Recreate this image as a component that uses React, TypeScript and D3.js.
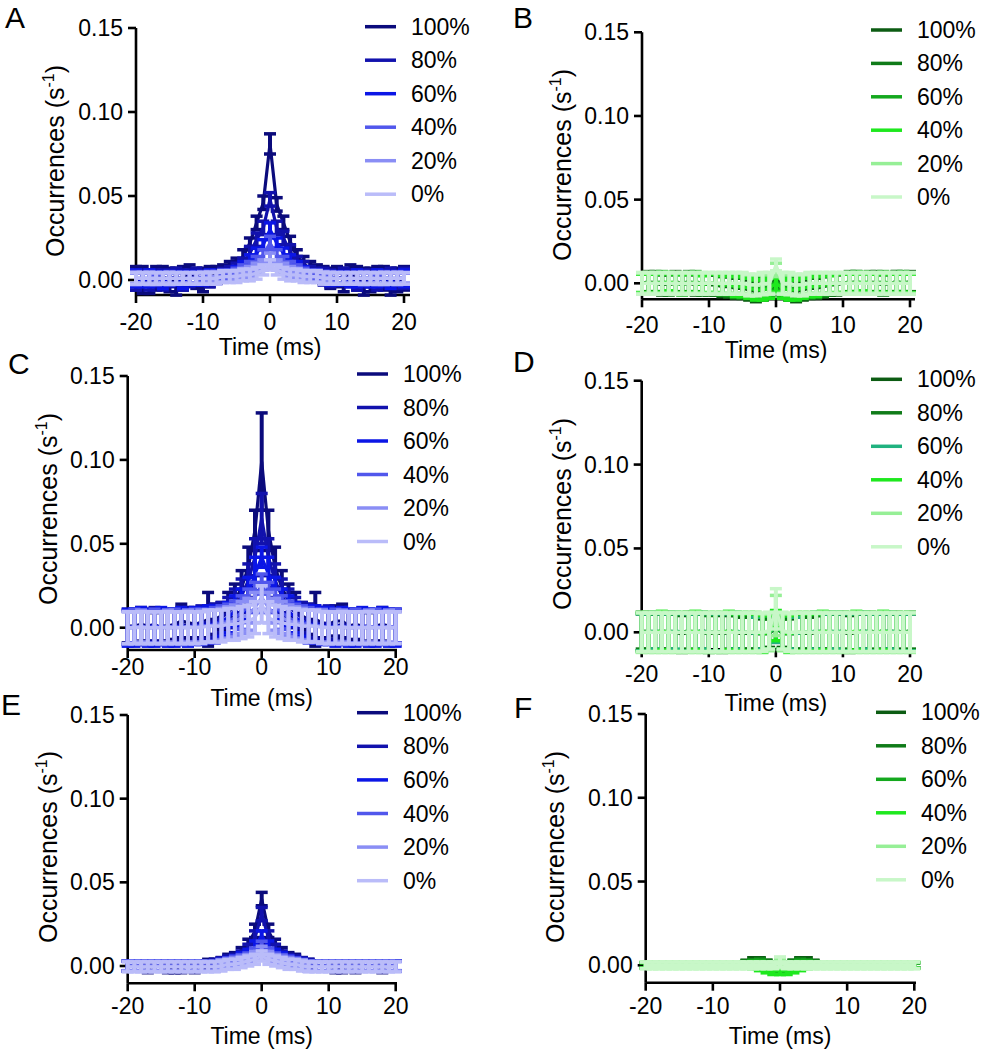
import React from 'react';
import * as d3 from 'd3';

// ---------- shared categories ----------
const times = [-20,-19,-18,-17,-16,-15,-14,-13,-12,-11,-10,-9,-8,-7,-6,-5,-4,-3,-2,-1,0,1,2,3,4,5,6,7,8,9,10,11,12,13,14,15,16,17,18,19,20];
const legendLabels = ['100%','80%','60%','40%','20%','0%'];
const xTicks = [-20,-10,0,10,20];
const yTicks = [0,0.05,0.10,0.15];
const yTickLabels = ['0.00','0.05','0.10','0.15'];

// ---------- Panel A (blue) ----------
const mA100 = [0.001,0.000,-0.001,0.001,0.002,0.000,-0.001,0.001,0.003,0.001,0.000,0.002,0.003,0.004,
  0.006,0.009,0.014,0.022,0.034,0.046,0.081,0.045,0.034,0.023,0.014,0.010,0.006,
  0.004,0.003,0.001,0.002,0.000,0.003,0.001,-0.001,0.000,0.002,0.001,-0.001,0.000,0.001];
const eA100 = [0.007,0.008,0.007,0.007,0.006,0.007,0.008,0.007,0.006,0.006,0.007,0.006,0.005,0.005,
  0.005,0.004,0.004,0.003,0.004,0.004,0.006,0.004,0.004,0.003,0.004,0.004,0.005,
  0.005,0.005,0.006,0.006,0.007,0.006,0.007,0.008,0.007,0.006,0.007,0.008,0.007,0.007];
const mA80 = [0.000,0.001,0.000,0.001,0.000,0.001,0.002,0.000,0.001,0.002,0.001,0.001,0.002,0.003,
  0.004,0.006,0.010,0.016,0.024,0.031,0.048,0.031,0.025,0.017,0.011,0.007,0.004,
  0.003,0.002,0.001,0.001,0.002,0.001,0.000,0.001,0.001,0.000,0.001,0.001,0.000,0.001];
const eA80 = [0.006,0.005,0.006,0.005,0.006,0.005,0.005,0.006,0.005,0.005,0.004,0.005,0.004,0.004,
  0.004,0.004,0.003,0.004,0.004,0.004,0.004,0.004,0.004,0.004,0.003,0.004,0.004,
  0.004,0.005,0.005,0.004,0.005,0.005,0.006,0.005,0.005,0.006,0.005,0.006,0.005,0.006];
const mA60 = [0.001,0.000,0.001,0.001,0.000,0.001,0.001,0.000,0.001,0.001,0.001,0.002,0.002,0.002,
  0.003,0.005,0.008,0.012,0.016,0.021,0.030,0.022,0.016,0.012,0.008,0.005,0.003,
  0.002,0.002,0.001,0.001,0.001,0.000,0.001,0.001,0.000,0.001,0.001,0.000,0.001,0.001];
const eA60 = [0.005,0.004,0.005,0.004,0.005,0.004,0.004,0.005,0.004,0.004,0.004,0.004,0.003,0.003,
  0.003,0.003,0.003,0.003,0.003,0.003,0.004,0.003,0.003,0.003,0.003,0.003,0.003,
  0.003,0.003,0.004,0.004,0.004,0.004,0.005,0.004,0.004,0.005,0.004,0.005,0.004,0.005];
const mA40 = [0.001,0.001,0.001,0.000,0.001,0.001,0.001,0.001,0.001,0.001,0.002,0.002,0.002,0.003,
  0.003,0.004,0.006,0.008,0.011,0.015,0.022,0.015,0.011,0.008,0.006,0.004,0.003,
  0.003,0.002,0.002,0.001,0.001,0.001,0.001,0.001,0.001,0.000,0.001,0.001,0.001,0.001];
const eA40 = [0.004,0.003,0.004,0.003,0.003,0.004,0.003,0.003,0.003,0.003,0.003,0.003,0.003,0.003,
  0.003,0.003,0.003,0.003,0.003,0.003,0.004,0.003,0.003,0.003,0.003,0.003,0.003,
  0.003,0.003,0.003,0.003,0.003,0.003,0.003,0.004,0.003,0.003,0.004,0.003,0.004,0.003];
const mA20 = [0.001,0.001,0.001,0.001,0.001,0.001,0.001,0.001,0.001,0.001,0.001,0.002,0.002,0.002,
  0.002,0.003,0.004,0.005,0.007,0.009,0.013,0.009,0.007,0.005,0.004,0.003,0.002,
  0.002,0.002,0.001,0.001,0.001,0.001,0.001,0.001,0.001,0.001,0.001,0.001,0.001,0.001];
const eA20 = [0.003,0.003,0.003,0.003,0.003,0.003,0.003,0.003,0.003,0.003,0.003,0.003,0.003,0.003,
  0.003,0.003,0.003,0.003,0.003,0.003,0.003,0.003,0.003,0.003,0.003,0.003,0.003,
  0.003,0.003,0.003,0.003,0.003,0.003,0.003,0.003,0.003,0.003,0.003,0.003,0.003,0.003];
const mA0 = [0.001,0.001,0.001,0.001,0.001,0.001,0.001,0.001,0.001,0.001,0.001,0.001,0.001,0.002,
  0.002,0.002,0.003,0.003,0.004,0.006,0.009,0.006,0.004,0.003,0.003,0.002,0.002,
  0.002,0.001,0.001,0.001,0.001,0.001,0.001,0.001,0.001,0.001,0.001,0.001,0.001,0.001];
const eA0 = [0.0035,0.0035,0.0035,0.0035,0.0035,0.0035,0.0035,0.0035,0.0035,0.0035,0.0035,0.0035,0.0035,0.0035,
  0.0035,0.0035,0.0035,0.0035,0.0035,0.003,0.003,0.003,0.0035,0.0035,0.0035,0.0035,0.0035,
  0.0035,0.0035,0.0035,0.0035,0.0035,0.0035,0.0035,0.0035,0.0035,0.0035,0.0035,0.0035,0.0035,0.0035];

// ---------- Panel B (green) ----------
const mB100 = [0.000,0.001,0.000,-0.001,0.000,0.001,0.000,0.000,-0.001,0.000,-0.001,-0.001,-0.002,-0.002,
  -0.003,-0.003,-0.004,-0.005,-0.004,-0.003,0.003,-0.003,-0.004,-0.005,-0.004,-0.003,-0.003,
  -0.002,-0.001,-0.001,0.000,0.000,0.001,0.000,0.000,0.001,0.000,0.000,0.001,0.000,0.001];
const eB100 = [0.006,0.006,0.006,0.006,0.006,0.006,0.006,0.006,0.006,0.006,0.006,0.006,0.006,0.006,
  0.006,0.006,0.006,0.006,0.006,0.005,0.004,0.005,0.006,0.006,0.006,0.006,0.006,
  0.006,0.006,0.006,0.006,0.006,0.006,0.006,0.006,0.006,0.006,0.006,0.006,0.006,0.006];
const mB80 = [0.000,0.000,0.001,0.000,-0.001,0.000,0.000,0.001,0.000,-0.001,0.000,-0.001,-0.001,-0.002,
  -0.002,-0.003,-0.003,-0.004,-0.004,-0.002,0.002,-0.002,-0.004,-0.004,-0.003,-0.003,-0.002,
  -0.002,-0.001,0.000,0.000,0.001,0.000,0.000,0.001,0.000,-0.001,0.000,0.001,0.000,0.000];
const eB80 = [0.006,0.006,0.006,0.006,0.006,0.006,0.006,0.006,0.006,0.006,0.006,0.006,0.006,0.006,
  0.006,0.006,0.006,0.006,0.006,0.005,0.005,0.005,0.006,0.006,0.006,0.006,0.006,
  0.006,0.006,0.006,0.006,0.006,0.006,0.006,0.006,0.006,0.006,0.006,0.006,0.006,0.006];
const mB60 = [0.000,0.000,0.000,0.001,0.000,0.000,-0.001,0.000,0.001,0.000,0.000,0.000,-0.001,-0.001,
  -0.001,-0.002,-0.002,-0.003,-0.003,-0.002,0.001,-0.002,-0.003,-0.003,-0.002,-0.002,-0.001,
  -0.001,0.000,0.000,0.000,0.000,0.001,0.000,0.000,0.000,0.001,0.000,0.000,0.001,0.000];
const eB60 = [0.006,0.006,0.006,0.006,0.006,0.006,0.006,0.006,0.006,0.006,0.006,0.006,0.006,0.006,
  0.006,0.006,0.006,0.006,0.006,0.006,0.005,0.006,0.006,0.006,0.006,0.006,0.006,
  0.006,0.006,0.006,0.006,0.006,0.006,0.006,0.006,0.006,0.006,0.006,0.006,0.006,0.006];
const mB40 = [0.000,0.000,0.000,0.000,0.001,0.000,0.000,0.000,0.000,-0.001,0.000,0.000,-0.001,-0.001,
  -0.002,-0.002,-0.003,-0.004,-0.004,-0.003,0.000,-0.003,-0.004,-0.004,-0.003,-0.002,-0.002,
  -0.001,-0.001,0.000,0.000,0.000,0.000,0.001,0.000,0.000,0.000,0.000,0.000,0.000,0.000];
const eB40 = [0.0055,0.0055,0.0055,0.0055,0.0055,0.0055,0.0055,0.0055,0.0055,0.0055,0.0055,0.0055,0.0055,0.0055,
  0.006,0.006,0.006,0.006,0.006,0.006,0.005,0.006,0.006,0.006,0.006,0.006,0.006,
  0.0055,0.0055,0.0055,0.0055,0.0055,0.0055,0.0055,0.0055,0.0055,0.0055,0.0055,0.0055,0.0055,0.0055];
const mB20 = [0.000,0.000,0.000,0.000,0.000,0.000,0.000,0.000,0.000,0.000,0.000,0.000,0.000,0.000,
  0.000,0.000,-0.001,-0.001,-0.001,0.000,0.008,0.000,-0.001,-0.001,-0.001,0.000,0.000,
  0.000,0.000,0.000,0.000,0.000,0.000,0.000,0.000,0.000,0.000,0.000,0.000,0.000,0.000];
const eB20 = [0.006,0.006,0.006,0.006,0.006,0.006,0.006,0.006,0.006,0.006,0.006,0.006,0.006,0.006,
  0.006,0.006,0.006,0.006,0.006,0.006,0.004,0.006,0.006,0.006,0.006,0.006,0.006,
  0.006,0.006,0.006,0.006,0.006,0.006,0.006,0.006,0.006,0.006,0.006,0.006,0.006,0.006];
const mB0 = [0.000,0.000,0.000,0.000,0.000,0.000,0.000,0.000,0.000,0.000,0.000,0.000,0.000,0.000,
  0.000,0.000,-0.001,-0.001,0.000,0.000,0.011,0.000,0.000,-0.001,-0.001,0.000,0.000,
  0.000,0.000,0.000,0.000,0.000,0.000,0.000,0.000,0.000,0.000,0.000,0.000,0.000,0.000];
const eB0 = [0.0065,0.0065,0.0065,0.0065,0.0065,0.0065,0.0065,0.0065,0.0065,0.0065,0.0065,0.0065,0.0065,0.0065,
  0.0065,0.0065,0.0065,0.0065,0.0065,0.0065,0.0035,0.0065,0.0065,0.0065,0.0065,0.0065,0.0065,
  0.0065,0.0065,0.0065,0.0065,0.0065,0.0065,0.0065,0.0065,0.0065,0.0065,0.0065,0.0065,0.0065,0.0065];

// ---------- Panel C (blue) ----------
const mC100 = [0.001,0.001,0.002,0.001,0.000,0.001,0.001,0.002,0.004,0.003,0.002,0.003,0.005,0.005,
  0.007,0.011,0.016,0.024,0.036,0.058,0.099,0.058,0.036,0.024,0.016,0.011,0.007,
  0.005,0.005,0.003,0.002,0.004,0.004,0.001,0.002,0.001,0.000,0.001,0.002,0.001,0.000];
const eC100 = [0.010,0.010,0.010,0.009,0.009,0.009,0.009,0.009,0.010,0.009,0.009,0.009,0.016,0.009,
  0.008,0.010,0.010,0.010,0.012,0.012,0.029,0.012,0.012,0.010,0.010,0.010,0.008,
  0.009,0.016,0.009,0.010,0.009,0.010,0.009,0.009,0.009,0.009,0.009,0.010,0.010,0.010];
const mC80 = [0.000,0.001,0.000,0.001,0.002,0.000,0.001,0.001,0.002,0.001,0.002,0.003,0.003,0.004,
  0.006,0.009,0.013,0.019,0.028,0.042,0.065,0.042,0.028,0.019,0.013,0.009,0.006,
  0.004,0.003,0.002,0.003,0.001,0.002,0.001,0.000,0.001,0.001,0.000,0.001,0.000,0.001];
const eC80 = [0.010,0.010,0.010,0.010,0.010,0.010,0.010,0.010,0.010,0.010,0.010,0.010,0.010,0.010,
  0.009,0.009,0.010,0.010,0.010,0.011,0.015,0.011,0.010,0.010,0.010,0.009,0.009,
  0.010,0.010,0.010,0.010,0.010,0.010,0.010,0.010,0.010,0.010,0.010,0.010,0.010,0.010];
const mC60 = [0.000,0.000,0.001,0.000,0.000,0.001,0.000,0.000,0.001,0.000,0.001,0.001,0.002,0.002,
  0.004,0.006,0.010,0.014,0.020,0.032,0.042,0.032,0.020,0.014,0.010,0.006,0.004,
  0.002,0.002,0.001,0.001,0.000,0.001,0.000,0.000,0.001,0.000,0.000,0.001,0.000,0.000];
const eC60 = [0.011,0.011,0.011,0.011,0.011,0.011,0.011,0.011,0.011,0.011,0.011,0.011,0.011,0.011,
  0.009,0.009,0.009,0.009,0.010,0.010,0.006,0.010,0.010,0.009,0.009,0.009,0.009,
  0.011,0.011,0.011,0.011,0.011,0.011,0.011,0.011,0.011,0.011,0.011,0.011,0.011,0.011];
const mC40 = [0.000,0.001,0.000,0.000,0.001,0.000,0.000,0.001,0.000,0.000,0.001,0.001,0.001,0.002,
  0.003,0.004,0.006,0.009,0.013,0.018,0.026,0.018,0.013,0.009,0.006,0.004,0.003,
  0.002,0.001,0.001,0.000,0.001,0.000,0.000,0.001,0.000,0.000,0.001,0.000,0.000,0.001];
const eC40 = [0.010,0.010,0.010,0.010,0.010,0.010,0.010,0.010,0.010,0.010,0.010,0.010,0.010,0.010,
  0.010,0.010,0.010,0.010,0.010,0.009,0.006,0.009,0.010,0.010,0.010,0.010,0.010,
  0.010,0.010,0.010,0.010,0.010,0.010,0.010,0.010,0.010,0.010,0.010,0.010,0.010,0.010];
const mC20 = [0.000,0.000,0.001,0.000,0.000,0.000,0.001,0.000,0.000,0.001,0.000,0.001,0.001,0.001,
  0.002,0.003,0.004,0.006,0.008,0.012,0.018,0.012,0.008,0.006,0.004,0.003,0.002,
  0.001,0.001,0.001,0.000,0.000,0.001,0.000,0.000,0.000,0.001,0.000,0.000,0.001,0.000];
const eC20 = [0.0095,0.0095,0.0095,0.0095,0.0095,0.0095,0.0095,0.0095,0.0095,0.0095,0.0095,0.0095,0.0095,0.0095,
  0.0095,0.0095,0.0095,0.0095,0.0095,0.009,0.007,0.009,0.0095,0.0095,0.0095,0.0095,0.0095,
  0.0095,0.0095,0.0095,0.0095,0.0095,0.0095,0.0095,0.0095,0.0095,0.0095,0.0095,0.0095,0.0095,0.0095];
const mC0 = [0.000,0.000,0.000,0.000,0.000,0.000,0.000,0.000,0.000,0.000,0.000,0.000,0.001,0.001,
  0.001,0.002,0.002,0.003,0.004,0.006,0.014,0.006,0.004,0.003,0.002,0.002,0.001,
  0.001,0.001,0.000,0.000,0.000,0.000,0.000,0.000,0.000,0.000,0.000,0.000,0.000,0.000];
const eC0 = [0.0095,0.0095,0.0095,0.0095,0.0095,0.0095,0.0095,0.0095,0.0095,0.0095,0.0095,0.0095,0.0095,0.0095,
  0.0095,0.0095,0.0095,0.0095,0.0095,0.0095,0.011,0.0095,0.0095,0.0095,0.0095,0.0095,0.0095,
  0.0095,0.0095,0.0095,0.0095,0.0095,0.0095,0.0095,0.0095,0.0095,0.0095,0.0095,0.0095,0.0095,0.0095];

// ---------- Panel D (green) ----------
const mD100 = [0.000,0.001,0.000,0.000,0.001,0.000,-0.001,0.000,0.000,0.001,0.000,0.000,-0.001,0.000,
  0.000,-0.001,0.000,-0.001,-0.001,0.000,0.002,0.000,-0.001,-0.001,0.000,-0.001,0.000,
  0.000,0.001,0.000,0.000,-0.001,0.000,0.001,0.000,0.000,0.001,0.000,0.001,0.000,0.000];
const eD100 = [0.011,0.011,0.011,0.011,0.011,0.011,0.011,0.011,0.011,0.011,0.011,0.011,0.011,0.011,
  0.010,0.010,0.010,0.010,0.009,0.009,0.008,0.009,0.009,0.010,0.010,0.010,0.010,
  0.011,0.011,0.011,0.011,0.011,0.011,0.011,0.011,0.011,0.011,0.011,0.011,0.011,0.011];
const mD80 = [0.001,0.000,0.000,0.001,0.000,0.000,0.000,0.001,0.000,0.000,-0.001,0.000,0.000,0.001,
  0.000,0.000,-0.001,0.000,-0.001,-0.001,0.003,-0.001,-0.001,0.000,-0.001,0.000,0.000,
  0.001,0.000,0.000,0.001,0.000,0.000,0.000,0.001,0.000,0.000,0.001,0.000,0.000,0.001];
const eD80 = [0.011,0.011,0.011,0.011,0.011,0.011,0.011,0.011,0.011,0.011,0.011,0.011,0.011,0.011,
  0.010,0.010,0.010,0.010,0.010,0.009,0.008,0.009,0.010,0.010,0.010,0.010,0.010,
  0.011,0.011,0.011,0.011,0.011,0.011,0.011,0.011,0.011,0.011,0.011,0.011,0.011,0.011];
const mD60 = [0.000,0.000,0.001,0.000,0.000,0.001,0.000,0.000,0.000,0.001,0.000,0.000,0.000,0.000,
  0.001,0.000,0.000,-0.001,0.000,0.000,0.003,0.000,0.000,-0.001,0.000,0.000,0.001,
  0.000,0.000,0.001,0.000,0.000,0.000,0.001,0.000,0.000,0.000,0.001,0.000,0.000,0.000];
const eD60 = [0.011,0.011,0.011,0.011,0.011,0.011,0.011,0.011,0.011,0.011,0.011,0.011,0.011,0.011,
  0.011,0.011,0.011,0.010,0.010,0.010,0.009,0.010,0.010,0.010,0.011,0.011,0.011,
  0.011,0.011,0.011,0.011,0.011,0.011,0.011,0.011,0.011,0.011,0.011,0.011,0.011,0.011];
const mD40 = [0.000,0.000,0.000,0.001,0.000,0.000,0.000,0.000,0.001,0.000,0.000,0.000,0.000,0.001,
  0.000,0.000,0.000,0.000,-0.001,0.000,0.004,0.000,-0.001,0.000,0.000,0.000,0.000,
  0.001,0.000,0.000,0.000,0.000,0.001,0.000,0.000,0.000,0.001,0.000,0.000,0.000,0.000];
const eD40 = [0.0115,0.0115,0.0115,0.0115,0.0115,0.0115,0.0115,0.0115,0.0115,0.0115,0.0115,0.0115,0.0115,0.0115,
  0.011,0.011,0.011,0.011,0.011,0.010,0.009,0.010,0.011,0.011,0.011,0.011,0.011,
  0.0115,0.0115,0.0115,0.0115,0.0115,0.0115,0.0115,0.0115,0.0115,0.0115,0.0115,0.0115,0.0115,0.0115];
const mD20 = [0.000,0.000,0.000,0.000,0.000,0.000,0.000,0.000,0.000,0.000,0.000,0.000,0.000,0.000,
  0.000,0.000,0.000,0.000,0.000,0.000,0.010,0.000,0.000,0.000,0.000,0.000,0.000,
  0.000,0.000,0.000,0.000,0.000,0.000,0.000,0.000,0.000,0.000,0.000,0.000,0.000,0.000];
const eD20 = [0.012,0.012,0.012,0.012,0.012,0.012,0.012,0.012,0.012,0.012,0.012,0.012,0.012,0.012,
  0.012,0.012,0.012,0.012,0.011,0.011,0.012,0.011,0.011,0.012,0.012,0.012,0.012,
  0.012,0.012,0.012,0.012,0.012,0.012,0.012,0.012,0.012,0.012,0.012,0.012,0.012,0.012];
const mD0 = [0.000,0.000,0.000,0.000,0.000,0.000,0.000,0.000,0.000,0.000,0.000,0.000,0.000,0.000,
  0.000,0.000,0.000,0.000,0.000,0.001,0.014,0.001,0.000,0.000,0.000,0.000,0.000,
  0.000,0.000,0.000,0.000,0.000,0.000,0.000,0.000,0.000,0.000,0.000,0.000,0.000,0.000];
const eD0 = [0.0115,0.0115,0.0115,0.0115,0.0115,0.0115,0.0115,0.0115,0.0115,0.0115,0.0115,0.0115,0.0115,0.0115,
  0.0115,0.0115,0.0115,0.0115,0.0115,0.011,0.012,0.011,0.0115,0.0115,0.0115,0.0115,0.0115,
  0.0115,0.0115,0.0115,0.0115,0.0115,0.0115,0.0115,0.0115,0.0115,0.0115,0.0115,0.0115,0.0115,0.0115];

// ---------- Panel E (blue) ----------
const mE100 = [0.000,0.000,0.000,-0.001,0.000,0.000,-0.001,-0.001,-0.001,0.000,-0.001,0.000,0.001,0.001,
  0.002,0.004,0.005,0.008,0.013,0.021,0.040,0.021,0.013,0.008,0.005,0.004,0.002,
  0.001,0.000,0.000,0.000,-0.001,-0.001,0.000,-0.001,0.000,0.000,0.000,-0.001,0.000,0.000];
const eE100 = [0.003,0.003,0.003,0.003,0.003,0.003,0.003,0.003,0.003,0.003,0.003,0.003,0.003,0.003,
  0.003,0.003,0.003,0.003,0.003,0.004,0.004,0.004,0.003,0.003,0.003,0.003,0.003,
  0.003,0.003,0.003,0.003,0.003,0.003,0.003,0.003,0.003,0.003,0.003,0.003,0.003,0.003];
const mE80 = [0.000,0.000,0.000,0.000,0.000,0.000,0.000,0.000,0.000,0.000,0.000,0.000,0.000,0.001,
  0.002,0.003,0.004,0.006,0.010,0.017,0.031,0.017,0.010,0.006,0.004,0.003,0.002,
  0.001,0.000,0.000,0.000,0.000,0.000,0.000,0.000,0.000,0.000,0.000,0.000,0.000,0.000];
const eE80 = [0.003,0.003,0.003,0.003,0.003,0.003,0.003,0.003,0.003,0.003,0.003,0.003,0.003,0.003,
  0.003,0.003,0.003,0.003,0.003,0.004,0.004,0.004,0.003,0.003,0.003,0.003,0.003,
  0.003,0.003,0.003,0.003,0.003,0.003,0.003,0.003,0.003,0.003,0.003,0.003,0.003,0.003];
const mE60 = [0.000,0.000,0.000,0.000,0.000,0.000,0.000,0.000,0.000,0.000,0.000,0.000,0.000,0.000,
  0.001,0.002,0.003,0.005,0.007,0.012,0.018,0.012,0.007,0.005,0.003,0.002,0.001,
  0.000,0.000,0.000,0.000,0.000,0.000,0.000,0.000,0.000,0.000,0.000,0.000,0.000,0.000];
const eE60 = [0.003,0.003,0.003,0.003,0.003,0.003,0.003,0.003,0.003,0.003,0.003,0.003,0.003,0.003,
  0.003,0.003,0.003,0.003,0.003,0.003,0.003,0.003,0.003,0.003,0.003,0.003,0.003,
  0.003,0.003,0.003,0.003,0.003,0.003,0.003,0.003,0.003,0.003,0.003,0.003,0.003,0.003];
const mE40 = [0.000,0.000,0.000,0.000,0.000,0.000,0.000,0.000,0.000,0.000,0.000,0.000,0.000,0.000,
  0.001,0.002,0.003,0.004,0.005,0.008,0.012,0.008,0.005,0.004,0.003,0.002,0.001,
  0.000,0.000,0.000,0.000,0.000,0.000,0.000,0.000,0.000,0.000,0.000,0.000,0.000,0.000];
const eE40 = [0.0028,0.0028,0.0028,0.0028,0.0028,0.0028,0.0028,0.0028,0.0028,0.0028,0.0028,0.0028,0.0028,0.0028,
  0.0028,0.0028,0.0028,0.0028,0.0028,0.0028,0.0028,0.0028,0.0028,0.0028,0.0028,0.0028,0.0028,
  0.0028,0.0028,0.0028,0.0028,0.0028,0.0028,0.0028,0.0028,0.0028,0.0028,0.0028,0.0028,0.0028,0.0028];
const mE20 = [0.000,0.000,0.000,0.000,0.000,0.000,0.000,0.000,0.000,0.000,0.000,0.000,0.000,0.000,
  0.001,0.001,0.002,0.003,0.004,0.006,0.009,0.006,0.004,0.003,0.002,0.001,0.001,
  0.000,0.000,0.000,0.000,0.000,0.000,0.000,0.000,0.000,0.000,0.000,0.000,0.000,0.000];
const eE20 = [0.0028,0.0028,0.0028,0.0028,0.0028,0.0028,0.0028,0.0028,0.0028,0.0028,0.0028,0.0028,0.0028,0.0028,
  0.0028,0.0028,0.0028,0.0028,0.0028,0.0028,0.0028,0.0028,0.0028,0.0028,0.0028,0.0028,0.0028,
  0.0028,0.0028,0.0028,0.0028,0.0028,0.0028,0.0028,0.0028,0.0028,0.0028,0.0028,0.0028,0.0028,0.0028];
const mE0 = [-0.0005,-0.0005,-0.0005,-0.0005,-0.0005,-0.0005,-0.0005,-0.0005,-0.0005,-0.0005,-0.0005,-0.0005,-0.0005,-0.0005,
  0.000,0.001,0.001,0.002,0.003,0.004,0.006,0.004,0.003,0.002,0.001,0.001,0.000,
  -0.0005,-0.0005,-0.0005,-0.0005,-0.0005,-0.0005,-0.0005,-0.0005,-0.0005,-0.0005,-0.0005,-0.0005,-0.0005,-0.0005];
const eE0 = [0.003,0.003,0.003,0.003,0.003,0.003,0.003,0.003,0.003,0.003,0.003,0.003,0.003,0.003,
  0.003,0.003,0.003,0.003,0.003,0.003,0.003,0.003,0.003,0.003,0.003,0.003,0.003,
  0.003,0.003,0.003,0.003,0.003,0.003,0.003,0.003,0.003,0.003,0.003,0.003,0.003,0.003];

// ---------- Panel F (green) ----------
const mF100 = [0.000,0.000,0.000,0.000,0.000,0.000,0.000,0.000,0.000,0.000,0.000,0.000,0.000,0.000,
  0.000,0.001,0.002,0.002,0.001,0.000,-0.001,0.000,0.001,0.002,0.002,0.001,0.000,
  0.000,0.000,0.000,0.000,0.000,0.000,0.000,0.000,0.000,0.000,0.000,0.000,0.000,0.000];
const eF100 = [0.0015,0.0015,0.0015,0.0015,0.0015,0.0015,0.0015,0.0015,0.0015,0.0015,0.0015,0.0015,0.0015,0.0015,
  0.0015,0.002,0.0025,0.0025,0.002,0.002,0.002,0.002,0.002,0.0025,0.0025,0.002,0.0015,
  0.0015,0.0015,0.0015,0.0015,0.0015,0.0015,0.0015,0.0015,0.0015,0.0015,0.0015,0.0015,0.0015,0.0015];
const mF80 = [0.000,0.000,0.000,0.000,0.000,0.000,0.000,0.000,0.000,0.000,0.000,0.000,0.000,0.000,
  0.000,0.001,0.001,0.002,0.001,0.000,-0.001,0.000,0.001,0.002,0.001,0.001,0.000,
  0.000,0.000,0.000,0.000,0.000,0.000,0.000,0.000,0.000,0.000,0.000,0.000,0.000,0.000];
const eF80 = [0.0015,0.0015,0.0015,0.0015,0.0015,0.0015,0.0015,0.0015,0.0015,0.0015,0.0015,0.0015,0.0015,0.0015,
  0.0015,0.0018,0.002,0.002,0.002,0.002,0.002,0.002,0.002,0.002,0.002,0.0018,0.0015,
  0.0015,0.0015,0.0015,0.0015,0.0015,0.0015,0.0015,0.0015,0.0015,0.0015,0.0015,0.0015,0.0015,0.0015];
const mF60 = [0.000,0.000,0.000,0.000,0.000,0.000,0.000,0.000,0.000,0.000,0.000,0.000,0.000,0.000,
  0.000,0.000,0.001,0.001,0.000,-0.001,-0.002,-0.001,0.000,0.001,0.001,0.000,0.000,
  0.000,0.000,0.000,0.000,0.000,0.000,0.000,0.000,0.000,0.000,0.000,0.000,0.000,0.000];
const eF60 = [0.0016,0.0016,0.0016,0.0016,0.0016,0.0016,0.0016,0.0016,0.0016,0.0016,0.0016,0.0016,0.0016,0.0016,
  0.0016,0.0016,0.002,0.002,0.002,0.002,0.002,0.002,0.002,0.002,0.002,0.0016,0.0016,
  0.0016,0.0016,0.0016,0.0016,0.0016,0.0016,0.0016,0.0016,0.0016,0.0016,0.0016,0.0016,0.0016,0.0016];
const mF40 = [0.000,0.000,0.000,0.000,0.000,0.000,0.000,0.000,0.000,0.000,0.000,0.000,0.000,0.000,
  0.000,0.000,0.000,-0.001,-0.002,-0.003,-0.003,-0.003,-0.002,-0.001,0.000,0.000,0.000,
  0.000,0.000,0.000,0.000,0.000,0.000,0.000,0.000,0.000,0.000,0.000,0.000,0.000,0.000];
const eF40 = [0.0017,0.0017,0.0017,0.0017,0.0017,0.0017,0.0017,0.0017,0.0017,0.0017,0.0017,0.0017,0.0017,0.0017,
  0.0017,0.0017,0.002,0.0022,0.0025,0.0025,0.0025,0.0025,0.0025,0.0022,0.002,0.0017,0.0017,
  0.0017,0.0017,0.0017,0.0017,0.0017,0.0017,0.0017,0.0017,0.0017,0.0017,0.0017,0.0017,0.0017,0.0017];
const mF20 = [0.000,0.000,0.000,0.000,0.000,0.000,0.000,0.000,0.000,0.000,0.000,0.000,0.000,0.000,
  0.000,0.000,0.000,0.000,0.000,0.000,0.001,0.000,0.000,0.000,0.000,0.000,0.000,
  0.000,0.000,0.000,0.000,0.000,0.000,0.000,0.000,0.000,0.000,0.000,0.000,0.000,0.000];
const eF20 = [0.0019,0.0019,0.0019,0.0019,0.0019,0.0019,0.0019,0.0019,0.0019,0.0019,0.0019,0.0019,0.0019,0.0019,
  0.0019,0.0019,0.0019,0.0019,0.0019,0.0019,0.0025,0.0019,0.0019,0.0019,0.0019,0.0019,0.0019,
  0.0019,0.0019,0.0019,0.0019,0.0019,0.0019,0.0019,0.0019,0.0019,0.0019,0.0019,0.0019,0.0019,0.0019];
const mF0 = [0.000,0.000,0.000,0.000,0.000,0.000,0.000,0.000,0.000,0.000,0.000,0.000,0.000,0.000,
  0.000,0.000,0.000,0.000,0.000,0.000,0.002,0.000,0.000,0.000,0.000,0.000,0.000,
  0.000,0.000,0.000,0.000,0.000,0.000,0.000,0.000,0.000,0.000,0.000,0.000,0.000,0.000];
const eF0 = [0.002,0.002,0.002,0.002,0.002,0.002,0.002,0.002,0.002,0.002,0.002,0.002,0.002,0.002,
  0.002,0.002,0.002,0.002,0.002,0.002,0.003,0.002,0.002,0.002,0.002,0.002,0.002,
  0.002,0.002,0.002,0.002,0.002,0.002,0.002,0.002,0.002,0.002,0.002,0.002,0.002,0.002];

// ---------- colours ----------
const blues = ['#0b0b7c', '#1212ad', '#0b16e6', '#5157ec', '#8a8ef5', '#babcf9'];
const greens = ['#0c5c13', '#0f7b19', '#14a81e', '#1ee81e', '#96ef96', '#c8f7c8'];
const greensD = ['#0c5c13', '#0f7b19', '#20b27f', '#1ee81e', '#96ef96', '#c8f7c8'];

type Series = { m: number[]; e: number[] };
type PanelCfg = {
  letter: string; lx: number; ly: number;
  left: number; right: number; axisEnd: number; top: number; zero: number; bottom: number;
  tickBase: number; titleBase: number; ytx: number; yty: number;
  legX1: number; legX2: number; legY: number; legStep: number; legTx: number;
  colors: string[]; series: Series[];
};

const panels: PanelCfg[] = [
  { letter: 'A', lx: 5, ly: 28, left: 136, right: 404, axisEnd: 410, top: 28, zero: 280, bottom: 295,
    tickBase: 330, titleBase: 355, ytx: 55, yty: 161, legX1: 365, legX2: 396, legY: 26.7, legStep: 33.5, legTx: 411,
    colors: blues, series: [{m: mA100, e: eA100}, {m: mA80, e: eA80}, {m: mA60, e: eA60}, {m: mA40, e: eA40}, {m: mA20, e: eA20}, {m: mA0, e: eA0}] },
  { letter: 'B', lx: 513, ly: 28, left: 642, right: 910, axisEnd: 915, top: 32.3, zero: 283.3, bottom: 299.3,
    tickBase: 333, titleBase: 358, ytx: 562, yty: 165, legX1: 871, legX2: 902, legY: 30, legStep: 33.4, legTx: 917,
    colors: greens, series: [{m: mB100, e: eB100}, {m: mB80, e: eB80}, {m: mB60, e: eB60}, {m: mB40, e: eB40}, {m: mB20, e: eB20}, {m: mB0, e: eB0}] },
  { letter: 'C', lx: 8, ly: 374, left: 127.7, right: 395.7, axisEnd: 397, top: 376, zero: 627.7, bottom: 650,
    tickBase: 675, titleBase: 706, ytx: 48, yty: 509, legX1: 357, legX2: 388, legY: 374, legStep: 33.5, legTx: 403,
    colors: blues, series: [{m: mC100, e: eC100}, {m: mC80, e: eC80}, {m: mC60, e: eC60}, {m: mC40, e: eC40}, {m: mC20, e: eC20}, {m: mC0, e: eC0}] },
  { letter: 'D', lx: 513, ly: 372, left: 641.7, right: 910, axisEnd: 915, top: 380.7, zero: 632.3, bottom: 649.3,
    tickBase: 682, titleBase: 711, ytx: 562, yty: 514, legX1: 871, legX2: 902, legY: 379.3, legStep: 33.5, legTx: 917,
    colors: greensD, series: [{m: mD100, e: eD100}, {m: mD80, e: eD80}, {m: mD60, e: eD60}, {m: mD40, e: eD40}, {m: mD20, e: eD20}, {m: mD0, e: eD0}] },
  { letter: 'E', lx: 1, ly: 715, left: 127.7, right: 395.7, axisEnd: 397, top: 715, zero: 966, bottom: 983.3,
    tickBase: 1014, titleBase: 1044, ytx: 48, yty: 847, legX1: 357, legX2: 388, legY: 712.7, legStep: 33.6, legTx: 403,
    colors: blues, series: [{m: mE100, e: eE100}, {m: mE80, e: eE80}, {m: mE60, e: eE60}, {m: mE40, e: eE40}, {m: mE20, e: eE20}, {m: mE0, e: eE0}] },
  { letter: 'F', lx: 514, ly: 718, left: 645.7, right: 914.3, axisEnd: 916, top: 714, zero: 965.3, bottom: 982.7,
    tickBase: 1014, titleBase: 1044, ytx: 555, yty: 847, legX1: 876, legX2: 906, legY: 712.3, legStep: 33.5, legTx: 921,
    colors: greens, series: [{m: mF100, e: eF100}, {m: mF80, e: eF80}, {m: mF60, e: eF60}, {m: mF40, e: eF40}, {m: mF20, e: eF20}, {m: mF0, e: eF0}] },
];

const FONT = '"Liberation Sans", Arial, Helvetica, sans-serif';

function Panel({ p }: { p: PanelCfg }) {
  const x = d3.scaleLinear().domain([-20, 20]).range([p.left, p.right]);
  const y = d3.scaleLinear().domain([0, 0.15]).range([p.zero, p.top]);
  const line = d3.line<number>().x((_, i) => x(times[i])).y((d) => y(d));
  const cap = 6;
  return (
    <g>
      {/* axes */}
      <g stroke="#000" strokeWidth={2.6} fill="none">
        <line x1={p.left} x2={p.left} y1={p.top} y2={p.bottom} />
        <line x1={p.left} x2={p.axisEnd} y1={p.bottom} y2={p.bottom} />
        {yTicks.map((t) => (
          <line key={'yt' + t} x1={p.left - 8} x2={p.left} y1={y(t)} y2={y(t)} />
        ))}
        {xTicks.map((t) => (
          <line key={'xt' + t} x1={x(t)} x2={x(t)} y1={p.bottom} y2={p.bottom + 8} />
        ))}
      </g>
      {/* data */}
      {p.series.map((s, si) => (
        <g key={si} stroke={p.colors[si]} fill="none">
          {s.m.map((v, i) => {
            const cx = x(times[i]);
            const y1 = y(v - s.e[i]);
            const y2 = y(v + s.e[i]);
            return (
              <g key={i}>
                <line x1={cx} x2={cx} y1={y1} y2={y2} strokeWidth={4} />
                <line x1={cx - cap} x2={cx + cap} y1={y1} y2={y1} strokeWidth={3.5} />
                <line x1={cx - cap} x2={cx + cap} y1={y2} y2={y2} strokeWidth={3.5} />
              </g>
            );
          })}
          <path d={line(s.m) || ''} strokeWidth={3.2} strokeLinejoin="miter" />
        </g>
      ))}
      {/* tick labels */}
      <g fontFamily={FONT} fontSize={23} fill="#000">
        {yTicks.map((t, i) => (
          <text key={'yl' + t} x={p.left - 13} y={y(t)} dy="0.35em" textAnchor="end">{yTickLabels[i]}</text>
        ))}
        {xTicks.map((t) => (
          <text key={'xl' + t} x={x(t)} y={p.tickBase} textAnchor="middle">{String(t)}</text>
        ))}
        <text x={x(0)} y={p.titleBase} textAnchor="middle">Time (ms)</text>
        <text transform={`translate(${p.ytx},${p.yty}) rotate(-90)`} textAnchor="middle" dy="0.35em" fontSize={25}>
          <tspan>Occurrences (s</tspan>
          <tspan fontSize={16} dy={-10}>-1</tspan>
          <tspan dy={10}>)</tspan>
        </text>
        <text x={p.lx} y={p.ly} fontSize={30}>{p.letter}</text>
      </g>
      {/* legend */}
      <g>
        {legendLabels.map((lab, i) => (
          <g key={lab}>
            <line x1={p.legX1} x2={p.legX2} y1={p.legY + i * p.legStep} y2={p.legY + i * p.legStep}
              stroke={p.colors[i]} strokeWidth={3.5} />
            <text x={p.legTx} y={p.legY + i * p.legStep} dy="0.35em" fontFamily={FONT} fontSize={23} fill="#000">{lab}</text>
          </g>
        ))}
      </g>
    </g>
  );
}

export default function App() {
  return (
    <svg width={985} height={1050} viewBox="0 0 985 1050"
      style={{ position: 'absolute', left: 0, top: 0, background: '#fff' }}>
      <rect width={985} height={1050} fill="#fff" />
      {panels.map((p) => <Panel key={p.letter} p={p} />)}
    </svg>
  );
}
